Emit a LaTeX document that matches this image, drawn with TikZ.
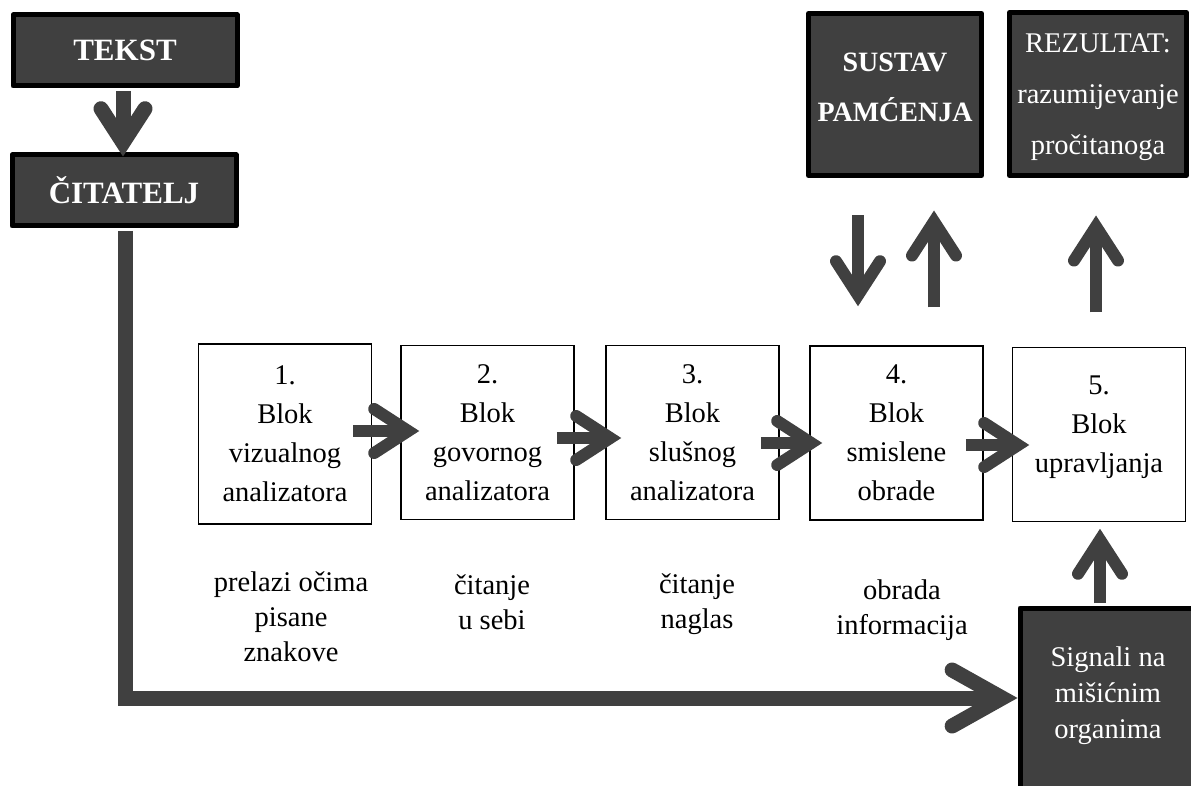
\documentclass[tikz,border=0pt]{standalone}
\usepackage{fontspec}
\setmainfont{Liberation Serif}
\usetikzlibrary{arrows.meta,positioning}
\definecolor{blokgray}{RGB}{64,64,64}

\begin{document}
\begin{tikzpicture}[x=1pt, y=-1pt,
  tamni/.style={draw=black, fill=blokgray, line width=5pt, text=white,
    align=center, line join=round},
  blok/.style={draw=black, line width=1.5pt, minimum width=173pt,
    minimum height=174pt, align=center, font=\fontsize{28.5}{39}\selectfont},
  opis/.style={align=center, font=\fontsize{28.5}{35}\selectfont},
  tok/.style={draw=blokgray, line width=12pt,
    -{Straight Barb[length=34pt,width=44pt,line cap=round,line join=miter]}},
  debeli/.style={tok, line width=15pt}]

\useasboundingbox (0,0) rectangle (1191,786);

% tamni blokovi
\node[tamni, minimum width=224pt, minimum height=71pt,
  font=\bfseries\fontsize{31}{36}\selectfont] (tekst) at (125,50.5) {TEKST};
\node[tamni, minimum width=224pt, minimum height=71pt,
  font=\bfseries\fontsize{31}{36}\selectfont] (citatelj) at (124,190.5) {ČITATELJ};
\node[tamni, minimum width=173pt, minimum height=162pt, text depth=14pt,
  font=\bfseries\fontsize{28}{50}\selectfont] (sustav) at (895,94.5) {SUSTAV\\PAMĆENJA};
\node[tamni, minimum width=177pt, minimum height=163pt, text depth=0pt,
  font=\fontsize{28.5}{51}\selectfont] (rezultat) at (1098,94) {REZULTAT:\\razumijevanje\\pročitanoga};
\node[tamni, minimum width=176pt, minimum height=180pt, text depth=10pt,
  font=\fontsize{28.5}{36}\selectfont] (signali) at (1108,698) {Signali na\\mišićnim\\organima};

% blokovi 1-5
\node[blok, minimum height=180pt] (b1) at (285,434) {1.\\Blok\\vizualnog\\analizatora};
\node[blok] (b2) at (487.5,432.5) {2.\\Blok\\govornog\\analizatora};
\node[blok] (b3) at (692.5,432.5) {3.\\Blok\\slušnog\\analizatora};
\node[blok] (b4) at (896.5,433) {4.\\Blok\\smislene\\obrade};
\node[blok, text depth=20pt] (b5) at (1099,434.5) {5.\\Blok\\upravljanja};

% opisi
\node[opis] (o1) at (291,617) {prelazi očima\\pisane\\znakove};
\node[opis] (o2) at (492,602) {čitanje\\u sebi};
\node[opis] (o3) at (697,604) {čitanje\\naglas};
\node[opis] (o4) at (902,610) {obrada\\informacija};

% strelice
\draw[debeli] ([shift={(-2,2.5)}]tekst.south) -- ([shift={(-1,4)}]citatelj.north);
\draw[debeli, -{Straight Barb[length=50pt,width=56pt,line cap=round,line join=miter]}]
  ([shift={(1.5,2.5)}]citatelj.south) |- (signali.west);
\draw[tok] ([shift={(-19,-3)}]b1.east) -- ([shift={(19,-1.5)}]b2.west);
\draw[tok] ([shift={(-18,5.5)}]b2.east) -- ([shift={(16,5.5)}]b3.west);
\draw[tok] ([shift={(-19,10.5)}]b3.east) -- ([shift={(13,10)}]b4.west);
\draw[tok] ([shift={(-18,12)}]b4.east) -- ([shift={(17.5,10.5)}]b5.west);
\draw[tok] ([shift={(-37,37.5)}]sustav.south) -- ([shift={(-38.5,-39)}]b4.north);
\draw[tok] ([shift={(37.5,-38)}]b4.north) -- ([shift={(39,32.5)}]sustav.south);
\draw[tok] ([shift={(-3,-34.5)}]b5.north) -- ([shift={(-2,37.5)}]rezultat.south);
\draw[tok] ([shift={(-8,-2.5)}]signali.north) -- ([shift={(1,6.5)}]b5.south);
\end{tikzpicture}
\end{document}
